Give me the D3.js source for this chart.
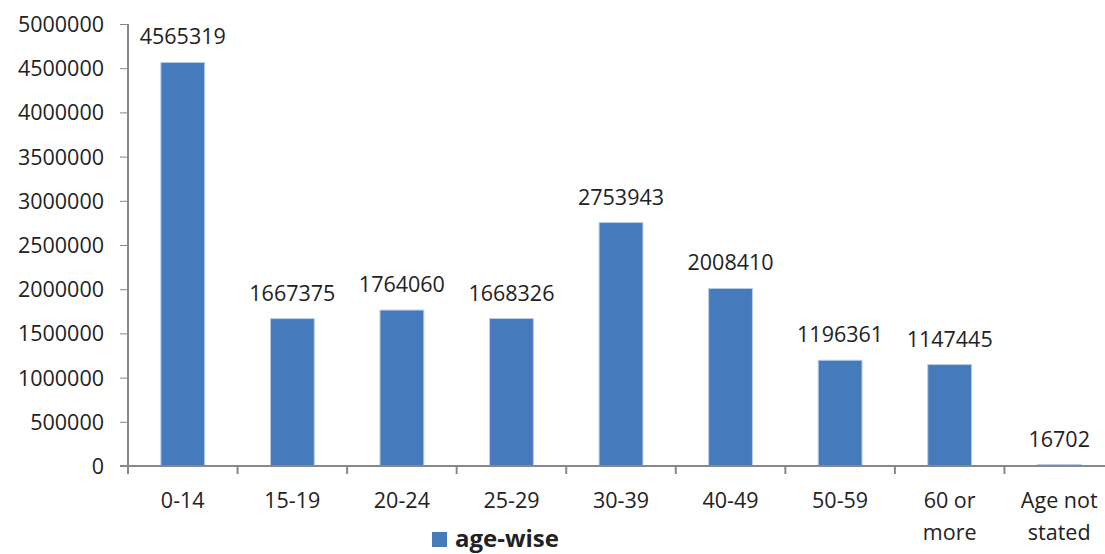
<!DOCTYPE html>
<html>
<head>
<meta charset="utf-8">
<script src="https://cdn.jsdelivr.net/npm/d3@7"></script>
<style>
  body { margin: 0; background: #fff; }
  svg text { font-family: "Open Sans", "Noto Sans", sans-serif; fill: #222; }
</style>
</head>
<body>
<div id="chart"></div>
<script>
// Chart data
var categories = ["0-14", "15-19", "20-24", "25-29", "30-39", "40-49", "50-59", "60 or more", "Age not stated"];
var values     = [4565319, 1667375, 1764060, 1668326, 2753943, 2008410, 1196361, 1147445, 16702];
var yTicks     = [0, 500000, 1000000, 1500000, 2000000, 2500000, 3000000, 3500000, 4000000, 4500000, 5000000];
var seriesName = "age-wise";

var W = 1105, H = 554;
var margin = { left: 128, top: 24, bottom: 88 };
var plotRight = 1114;
var fs = "21.5px";

var svg = d3.select("#chart").append("svg")
    .attr("width", W)
    .attr("height", H);

var x = d3.scaleBand()
    .domain(categories)
    .range([margin.left, plotRight])
    .paddingInner(0.6)
    .paddingOuter(0.3);

var y = d3.scaleLinear()
    .domain([0, 5000000])
    .range([H - margin.bottom, margin.top]);

// Bars
svg.selectAll(".bar")
    .data(values)
    .enter()
    .append("rect")
    .attr("class", "bar")
    .attr("x", function(d, i){ return x(categories[i]); })
    .attr("y", function(d){ return y(d); })
    .attr("width", x.bandwidth())
    .attr("height", function(d){ return y(0) - y(d); })
    .style("fill", "#457BBC")
    .style("stroke", "#B9CDE5")
    .style("stroke-width", 1);

// Value labels
svg.selectAll(".val")
    .data(values)
    .enter()
    .append("text")
    .attr("class", "val")
    .attr("x", function(d, i){ return x(categories[i]) + x.bandwidth() / 2; })
    .attr("y", function(d){ return y(d) - 18; })
    .attr("text-anchor", "middle")
    .style("font-size", fs)
    .text(function(d){ return d; });

// Y axis
var yAxis = d3.axisLeft(y)
    .tickValues(yTicks)
    .tickSize(8)
    .tickPadding(16)
    .tickFormat(d3.format("d"));
var gy = svg.append("g")
    .attr("transform", "translate(" + margin.left + ",0)")
    .call(yAxis);
gy.selectAll("text").style("font-size", fs).attr("dy", "0.35em");
gy.selectAll("line").style("stroke", "#888");
gy.select(".domain").style("stroke", "#888").style("stroke-width", 2)
    .attr("d", "M0," + y(5000000) + "V" + y(0));

// X axis baseline and ticks between categories
var gx = svg.append("g");
gx.append("line")
    .attr("x1", margin.left - 8).attr("x2", W)
    .attr("y1", y(0)).attr("y2", y(0))
    .style("stroke", "#888").style("stroke-width", 2);
var boundaries = d3.range(categories.length + 1).map(function(i){ return margin.left + i * (plotRight - margin.left) / categories.length; });
gx.selectAll(".xt")
    .data(boundaries)
    .enter()
    .append("line")
    .attr("x1", function(d){ return d; })
    .attr("x2", function(d){ return d; })
    .attr("y1", y(0))
    .attr("y2", y(0) + 8)
    .style("stroke", "#888").style("stroke-width", 2);

// Category labels, wrapped onto two lines where needed
var wrapped = { "60 or more": ["60 or", "more"], "Age not stated": ["Age not", "stated"] };
var xl = svg.selectAll(".xl")
    .data(categories)
    .enter()
    .append("text")
    .attr("class", "xl")
    .attr("text-anchor", "middle")
    .attr("x", function(d){ return x(d) + x.bandwidth() / 2; })
    .attr("y", y(0) + 42)
    .style("font-size", fs);
xl.each(function(d){
    var lines = wrapped[d] || [d];
    var t = d3.select(this);
    var cx = x(d) + x.bandwidth() / 2;
    lines.forEach(function(line, i){
        t.append("tspan")
            .attr("x", cx)
            .attr("dy", i === 0 ? 0 : 32)
            .text(line);
    });
});

// Legend
var legend = svg.append("g").attr("transform", "translate(432,532)");
legend.append("rect")
    .attr("width", 15).attr("height", 15)
    .style("fill", "#457BBC");
legend.append("text")
    .attr("x", 23).attr("y", 15)
    .style("font-size", "24px")
    .style("font-weight", "bold")
    .text(seriesName);
</script>
</body>
</html>
